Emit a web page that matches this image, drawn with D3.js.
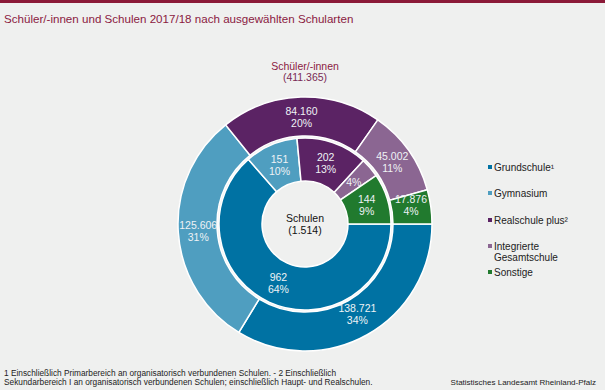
<!DOCTYPE html>
<html><head><meta charset="utf-8">
<script src="https://cdn.jsdelivr.net/npm/d3@7"></script>
<style>
html,body{margin:0;padding:0;background:#eff0ef;}
svg{display:block;font-family:"Liberation Sans",Arial,sans-serif;}
</style></head>
<body><svg id="c" width="605" height="390"></svg>
<script>
const categories = ["Grundschule¹","Gymnasium","Realschule plus²","Integrierte Gesamtschule","Sonstige"];
const legendLines = [["Grundschule¹"],["Gymnasium"],["Realschule plus²"],["Integrierte","Gesamtschule"],["Sonstige"]];
const pupils = [138721,125606,84160,45002,17876];
const pupilsLabels = ["138.721","125.606","84.160","45.002","17.876"];
const pupilsPct = ["34%","31%","20%","11%","4%"];
const schools = [962,151,202,55,144];
const schoolsLabels = ["962","151","202","","144"];
const schoolsPct = ["64%","10%","13%","4%","9%"];
const colors = ["#0072a3","#4f9ec0","#5b2364","#8b6692","#217a2e"];

const svg = d3.select("#c");
svg.append("rect").attr("x",0).attr("y",0).attr("width",605).attr("height",3).attr("fill","#8b1a38");
svg.append("text").attr("x",4).attr("y",23).attr("font-size",11.6).attr("fill","#8b1a3f")
  .text("Schüler/-innen und Schulen 2017/18 nach ausgewählten Schularten");

const cx = 305, cy = 224;
const g = svg.append("g").attr("transform",`translate(${cx},${cy})`);
const pie = d3.pie().sort(null).value(d=>d).startAngle(Math.PI/2).endAngle(Math.PI/2+2*Math.PI);

const outerArc = d3.arc().innerRadius(88).outerRadius(127);
const innerArc = d3.arc().innerRadius(43).outerRadius(86);
const outerLab = d3.arc().innerRadius(107).outerRadius(107);
const innerLab = d3.arc().innerRadius(64.5).outerRadius(64.5);

const po = pie(pupils), pi = pie(schools);
g.selectAll("path.o").data(po).enter().append("path").attr("d",outerArc)
  .attr("fill",(d,i)=>colors[i]).attr("stroke","#ffffff").attr("stroke-width",1.5);
g.selectAll("path.i").data(pi).enter().append("path").attr("d",innerArc)
  .attr("fill",(d,i)=>colors[i]).attr("stroke","#ffffff").attr("stroke-width",1.5);

function labels(data, arcGen, l1, l2, offsets){
  data.forEach((d,i)=>{
    const [x,y] = arcGen.centroid(d);
    const off = offsets ? offsets[i] : 0;
    const t = g.append("text").attr("text-anchor","middle").attr("font-size",10.5).attr("fill","#eef2f5");
    if(l1[i]){
      t.append("tspan").attr("x",x).attr("y",y-2+off).text(l1[i]);
      t.append("tspan").attr("x",x).attr("y",y+10+off).text(l2[i]);
    } else {
      t.append("tspan").attr("x",x).attr("y",y+4+off).text(l2[i]);
    }
  });
}
labels(po, outerLab, pupilsLabels, pupilsPct, [-3,0,0,0,-4]);
labels(pi, innerLab, schoolsLabels, schoolsPct, [0,0,0,0,0]);

g.append("text").attr("text-anchor","middle").attr("y",-2).attr("font-size",10.5).attr("fill","#111").text("Schulen");
g.append("text").attr("text-anchor","middle").attr("y",10).attr("font-size",10.5).attr("fill","#111").text("(1.514)");

svg.append("text").attr("x",cx).attr("y",70).attr("text-anchor","middle").attr("font-size",10.5).attr("fill","#8b1a3f").text("Schüler/-innen");
svg.append("text").attr("x",cx).attr("y",81).attr("text-anchor","middle").attr("font-size",10.5).attr("fill","#7a2a55").text("(411.365)");

// legend
const legY = [167,193,220,246,272];
legendLines.forEach((lines,i)=>{
  svg.append("rect").attr("x",488).attr("y",legY[i]-2).attr("width",4).attr("height",4).attr("fill",colors[i]);
  lines.forEach((ln,j)=>{
    svg.append("text").attr("x",494).attr("y",legY[i]+4+j*11).attr("font-size",10).attr("fill","#222").text(ln);
  });
});

// footnotes
svg.append("text").attr("x",4).attr("y",376).attr("font-size",8.3).attr("fill","#222")
  .text("1 Einschließlich Primarbereich an organisatorisch verbundenen Schulen. - 2 Einschließlich");
svg.append("text").attr("x",4).attr("y",384.5).attr("font-size",8.3).attr("fill","#222")
  .text("Sekundarbereich I an organisatorisch verbundenen Schulen; einschließlich Haupt- und Realschulen.");
svg.append("text").attr("x",596).attr("y",384.5).attr("text-anchor","end").attr("font-size",8).attr("fill","#222")
  .text("Statistisches Landesamt Rheinland-Pfalz");
</script></body></html>
